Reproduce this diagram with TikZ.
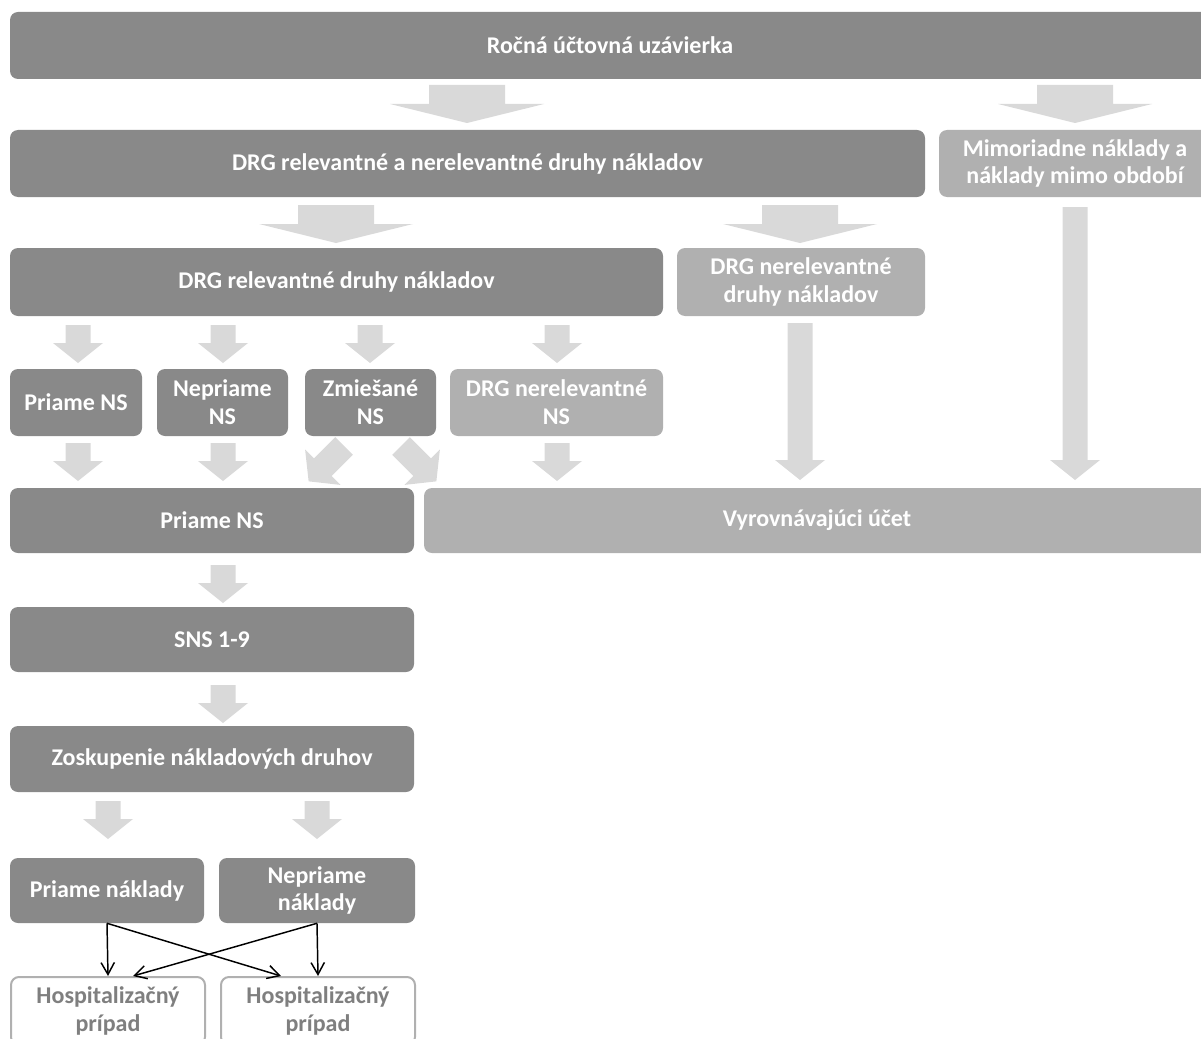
\documentclass[tikz,border=0pt]{standalone}
\usepackage{fontspec}
\setmainfont{Carlito}
\usetikzlibrary{arrows.meta,calc}

\definecolor{darkbox}{RGB}{137,137,137}
\definecolor{lightbox}{RGB}{176,176,176}
\definecolor{arrowgray}{RGB}{217,217,217}
\definecolor{hospgray}{RGB}{127,127,127}

\tikzset{
  size/.style 2 args={minimum width=#1*0.75pt, minimum height=#2*0.75pt},
  basebox/.style={rounded corners=6pt, inner sep=0pt, align=center,
    font=\fontsize{18}{20.8}\selectfont\bfseries, text=white},
  dbox/.style={basebox, fill=darkbox},
  lbox/.style={basebox, fill=lightbox},
  obox/.style={basebox, fill=white, draw=lightbox, line width=1.5pt, text=hospgray},
  pics/warr/.style={code={\fill[arrowgray] (-38,0) -- (38,0) -- (38,19) -- (77,19) -- (0,38) -- (-77,19) -- (-38,19) -- cycle;}},
  pics/narr/.style={code={\fill[arrowgray] (-12.5,0) -- (12.5,0) -- (12.5,#1-20) -- (25,#1-20) -- (0,#1) -- (-25,#1-20) -- (-12.5,#1-20) -- cycle;}},
  link/.style={-{Straight Barb[length=9pt,width=10pt]}, line width=1.1pt},
}

\begin{document}
\begin{tikzpicture}[x=0.75pt,y=-0.75pt]

\clip (0,0) rectangle (1201,1038);

% boxes
\node[dbox, size={1200}{67}] (rocna) at (610,45.5) {Ročná účtovná uzávierka};
\node[dbox, size={915}{67}] (drgall) at (467.5,163.5) {DRG relevantné a nerelevantné druhy nákladov};
\node[lbox, size={272}{67}] (mimo) at (1075,163.5) {Mimoriadne náklady a\\náklady mimo období};
\node[dbox, size={653}{68}] (drgrel) at (336.5,282) {DRG relevantné druhy nákladov};
\node[lbox, size={248}{68}] (drgnerel) at (801,282) {DRG nerelevantné\\druhy nákladov};

\node[dbox, size={132}{67}] (priame) at (76,402.5) {Priame NS};
\node[dbox, size={131}{67}] (nepriame) at (222.5,402.5) {Nepriame\\NS};
\node[dbox, size={131}{67}] (zmies) at (370.5,402.5) {Zmiešané\\NS};
\node[lbox, size={213}{67}] (nerelns) at (556.5,402.5) {DRG nerelevantné\\NS};

\node[dbox, size={404}{65}] (priamens) at (212,520.5) {Priame NS};
\node[lbox, size={786}{65}] (vyrov) at (817,520.5) {Vyrovnávajúci účet};
\node[dbox, size={404}{65}] (sns) at (212,639.5) {SNS 1-9};
\node[dbox, size={404}{66}] (zosk) at (212,759) {Zoskupenie nákladových druhov};

\node[dbox, size={194}{65}] (pnakl) at (107,890.5) {Priame náklady};
\node[dbox, size={196}{65}] (npnakl) at (317,890.5) {Nepriame\\náklady};
\node[obox, size={194}{68}] (hosp1) at (108,1011) {Hospitalizačný\\prípad};
\node[obox, size={194}{68}] (hosp2) at (318,1011) {Hospitalizačný\\prípad};

% block arrows
\foreach \Point in {(467,85),(1075,85),(336,205),(800,205)}{
    \pic at \Point {warr};
}
\foreach \Point in {(78,325),(223,325),(370,325),(557,325),(78,443),(223,443),(557,443),(223,565),(223,685),(108,801),(317,801)}{
    \pic at \Point {narr=38};
}
\pic at (1075,207) {narr=273};
\pic at (800,323) {narr=157};
\pic[rotate=-45] at (344,446) {narr=50};
\pic[rotate=45] at (401,446) {narr=50};

% cost links
\coordinate (h1in) at ($(hosp1.north)+(25,0)$);
\coordinate (h2in) at ($(hosp2.north)+(-37,0)$);
\draw[link] (pnakl.south) -- (hosp1.north);
\draw[link] (pnakl.south) -- (h2in);
\draw[link] (npnakl.south) -- (hosp2.north);
\draw[link] (npnakl.south) -- (h1in);

\end{tikzpicture}
\end{document}
